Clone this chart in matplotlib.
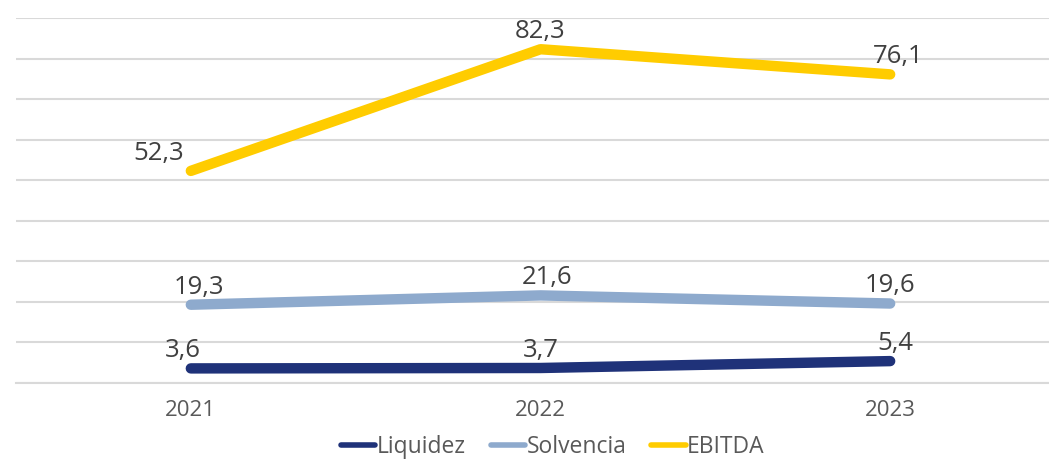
import matplotlib
matplotlib.use("Agg")
import matplotlib.pyplot as plt

years = ["2021", "2022", "2023"]
liquidez = [3.6, 3.7, 5.4]
solvencia = [19.3, 21.6, 19.6]
ebitda = [52.3, 82.3, 76.1]

# horizontal nudges of the value labels (points), as placed in the original
liquidez_dx = [-6, 0, 4]
solvencia_dx = [6, 5, 0]
ebitda_dx = [-23, 0, 6]

series = [
    ("Liquidez", liquidez, "#1f3279", liquidez_dx),
    ("Solvencia", solvencia, "#8eaacd", solvencia_dx),
    ("EBITDA", ebitda, "#ffcc00", ebitda_dx),
]

plt.rcParams["font.family"] = ["Open Sans", "DejaVu Sans"]
text_color = "#404040"

fig = plt.figure(figsize=(10.49, 4.61), dpi=100)
ax = fig.add_axes([16 / 1049, 78 / 461, 1049 / 1049, 365 / 461])

x = list(range(len(years)))
for name, vals, color, dxs in series:
    ax.plot(x, vals, color=color, lw=7.5, solid_capstyle="round",
            solid_joinstyle="round", label=name, zorder=3)
    for xi, v, dx in zip(x, vals, dxs):
        ax.annotate(f"{v:.1f}".replace(".", ","), (xi, v), xytext=(dx, 8),
                    textcoords="offset points", ha="center", va="baseline",
                    fontsize=18.5, color=text_color, zorder=4)

ax.set_xlim(-0.5, 2.5)
ax.set_ylim(0, 90)
ax.set_yticks(range(0, 91, 10))
ax.yaxis.grid(True, color="#d9d9d9", lw=1.5)
ax.set_axisbelow(True)
ax.tick_params(axis="y", left=False, labelleft=False)
ax.set_xticks(x)
ax.set_xticklabels(years)
ax.tick_params(axis="x", length=0, pad=12, labelsize=16, labelcolor="#595959")
for side in ["top", "right", "left"]:
    ax.spines[side].set_visible(False)
ax.spines["bottom"].set_color("#d9d9d9")
ax.spines["bottom"].set_linewidth(1.5)

leg = fig.legend(loc="center", bbox_to_anchor=(0.527, 0.03), ncol=3,
                 frameon=False, fontsize=16.5, handlelength=1.5,
                 handletextpad=0.05, columnspacing=1.1)
for line in leg.get_lines():
    line.set_linewidth(4)
    line.set_solid_capstyle("round")
for t in leg.get_texts():
    t.set_color("#595959")

fig.savefig("out.png", dpi=100)
